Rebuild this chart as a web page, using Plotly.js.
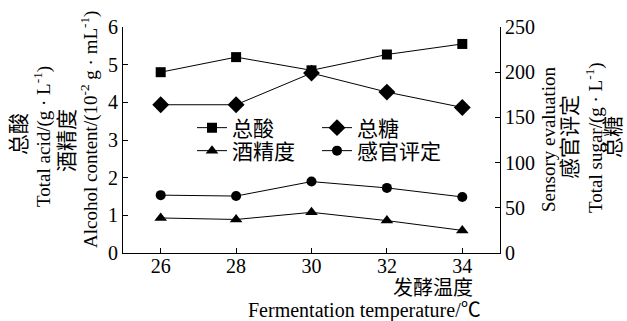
<!DOCTYPE html>
<html>
<head>
<meta charset="utf-8">
<script src="https://cdn.plot.ly/plotly-3.0.1.min.js"></script>
<style>html,body{margin:0;padding:0;background:#fff;}#chart{width:627px;height:321px;}</style>
</head>
<body>
<div id="chart"></div>
<script>
// Data
var temps = [26, 28, 30, 32, 34];
var totalAcid = [4.8, 5.2, 4.85, 5.27, 5.55];     // left axis, g/L
var totalSugar = [164, 164, 199, 178, 161];       // right axis, g/L
var alcohol = [0.93, 0.89, 1.08, 0.86, 0.6];      // left axis
var sensory = [64, 63, 79, 72, 62];               // right axis
var names = ['总酸', '总糖', '酒精度', '感官评定'];
var xTicks = [26, 28, 30, 32, 34];

var FONT = 'Liberation Serif, "Times New Roman", "Noto Sans CJK SC", serif';
var line = {color: '#000', width: 1};

var traces = [
  {x: temps, y: totalAcid, name: names[0], mode: 'lines+markers', line: line,
   marker: {symbol: 'square', size: 10, color: '#000'}, legend: 'legend'},
  {x: temps, y: totalSugar, name: names[1], yaxis: 'y2', mode: 'lines+markers', line: line,
   marker: {symbol: 'diamond', size: 13, color: '#000'}, legend: 'legend'},
  {x: temps, y: alcohol, name: names[2], mode: 'lines+markers', line: line,
   marker: {symbol: 'triangle-up', size: 11, color: '#000'}, legend: 'legend2'},
  {x: temps, y: sensory, name: names[3], yaxis: 'y2', mode: 'lines+markers', line: line,
   marker: {symbol: 'circle', size: 10, color: '#000'}, legend: 'legend2'}
];

var L = 123, R = 500, T = 27, B = 253;
function px(x) { return (x - L) / (R - L); }
function py(y) { return (B - y) / (B - T); }

function vAnn(text, x, y, size) {
  return {text: text, xref: 'paper', yref: 'paper', x: px(x), y: py(y), textangle: -90,
          showarrow: false, xanchor: 'center', yanchor: 'middle',
          font: {family: FONT, size: size, color: '#000'}};
}

var annotations = [
  vAnn('总酸', 19, 134, 21),
  vAnn('Total acid/(g · L<sup>-1</sup>)', 42, 137, 19),
  vAnn('酒精度', 67, 141, 21),
  vAnn('Alcohol content/(10<sup>-2</sup> g · mL<sup>-1</sup>)', 89, 130, 19),
  vAnn('Sensory evaluation', 548, 139, 19),
  vAnn('感官评定', 570, 137, 21),
  vAnn('Total sugar/(g · L<sup>-1</sup>)', 594, 138, 19),
  vAnn('总糖', 613, 137, 21),
  {text: '发酵温度', xref: 'paper', yref: 'paper', x: px(475), y: py(288),
   xanchor: 'right', yanchor: 'middle', showarrow: false,
   font: {family: FONT, size: 20, color: '#000'}},
  {text: 'Fermentation temperature/℃', xref: 'paper', yref: 'paper', x: px(364), y: py(310),
   xanchor: 'center', yanchor: 'middle', showarrow: false,
   font: {family: FONT, size: 20, color: '#000'}}
];

var legendCommon = {
  orientation: 'h', xanchor: 'left', yanchor: 'middle',
  bgcolor: 'rgba(0,0,0,0)', borderwidth: 0,
  entrywidth: 80, entrywidthmode: 'pixels',
  font: {family: FONT, size: 21, color: '#000'},
  tracegroupgap: 0
};

var layout = {
  width: 627, height: 321,
  margin: {l: L, r: 627 - R, t: T, b: 321 - B, pad: 0},
  paper_bgcolor: '#fff', plot_bgcolor: '#fff',
  font: {family: FONT, size: 19, color: '#000'},
  showlegend: true,
  legend: Object.assign({}, legendCommon, {x: px(192), y: py(128)}),
  legend2: Object.assign({}, legendCommon, {x: px(192), y: py(151)}),
  xaxis: {range: [25, 35], tickvals: xTicks, ticks: 'inside', ticklen: 5, tickcolor: '#000',
          showline: true, linecolor: '#000', linewidth: 1, showgrid: false, zeroline: false,
          ticklabelstandoff: -5,
          tickfont: {family: FONT, size: 20, color: '#000'}},
  yaxis: {range: [0, 6], dtick: 1, ticks: 'inside', ticklen: 5, tickcolor: '#000',
          showline: true, linecolor: '#000', linewidth: 1, showgrid: false, zeroline: false,
          tickfont: {family: FONT, size: 20, color: '#000'}},
  yaxis2: {range: [0, 250], dtick: 50, overlaying: 'y', side: 'right', ticks: 'inside', ticklen: 5,
           tickcolor: '#000', showline: true, linecolor: '#000', linewidth: 1, showgrid: false,
           zeroline: false, tickfont: {family: FONT, size: 20, color: '#000'}},
  annotations: annotations
};

Plotly.newPlot('chart', traces, layout, {displayModeBar: false, staticPlot: true});
</script>
</body>
</html>
